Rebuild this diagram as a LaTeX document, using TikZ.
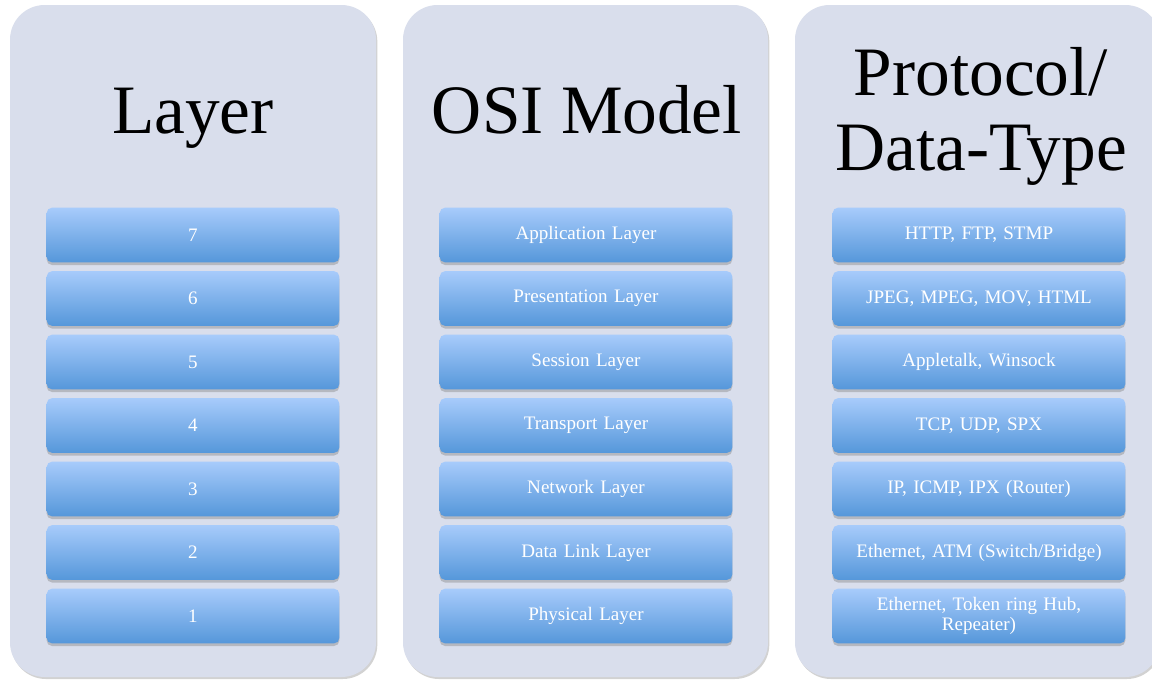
\documentclass[tikz,border=0pt]{standalone}
\usepackage{fontspec}
\setmainfont{Liberation Serif}
\usetikzlibrary{shadows}

\definecolor{panelgray}{HTML}{D9DEEC}
\definecolor{boxtop}{HTML}{A7CBFB}
\definecolor{boxbottom}{HTML}{5597DA}

\tikzset{
  panel/.style={fill=panelgray, rounded corners=26pt,
    drop shadow={shadow xshift=1pt, shadow yshift=-1.5pt, opacity=0.35}},
  layerbox/.style={rounded corners=4pt, top color=boxtop, bottom color=boxbottom,
    minimum width=219.5pt, minimum height=41pt, inner sep=2pt,
    text width=210pt, align=center, text=white,
    font=\fontsize{14.3}{14.8}\selectfont,
    drop shadow={shadow xshift=0pt, shadow yshift=-2pt, opacity=0.4}},
  heading/.style={anchor=base, font=\fontsize{52}{56}\selectfont}
}

\begin{document}
\begin{tikzpicture}[x=0.75pt, y=-0.75pt]
  \useasboundingbox[fill=white] (0,0) rectangle (1152,679);

  % the three columns
  \fill[panel] (10,5) rectangle (376,677);
  \fill[panel] (403,5) rectangle (768,677);
  \fill[panel] (795,5) rectangle (1160,677);

  \node[heading] (hlayer) at (193,133) {Layer};
  \node[heading] (hosi) at (587,133) {OSI Model};
  % base of a two-line node sits on its last line
  \node[heading, align=center] (hproto) at (981,170) {Protocol/\\Data-Type};

  % seven rows in each column
  \foreach \n/\osi/\proto [count=\i from 0] in {
      7/Application Layer/{HTTP, FTP, STMP},
      6/Presentation Layer/{JPEG, MPEG, MOV, HTML},
      5/Session Layer/{Appletalk, Winsock},
      4/Transport Layer/{TCP, UDP, SPX},
      3/Network Layer/{IP, ICMP, IPX (Router)},
      2/Data Link Layer/{Ethernet, ATM (Switch/Bridge)},
      1/Physical Layer/{Ethernet, Token ring Hub,\\ Repeater)}} {
    \node[layerbox] (num\n) at (193,235+63.5*\i) {\n};
    \node[layerbox] (osi\n) at (586,235+63.5*\i) {\osi};
    \node[layerbox] (proto\n) at (979,235+63.5*\i) {\proto};
  }
\end{tikzpicture}
\end{document}
